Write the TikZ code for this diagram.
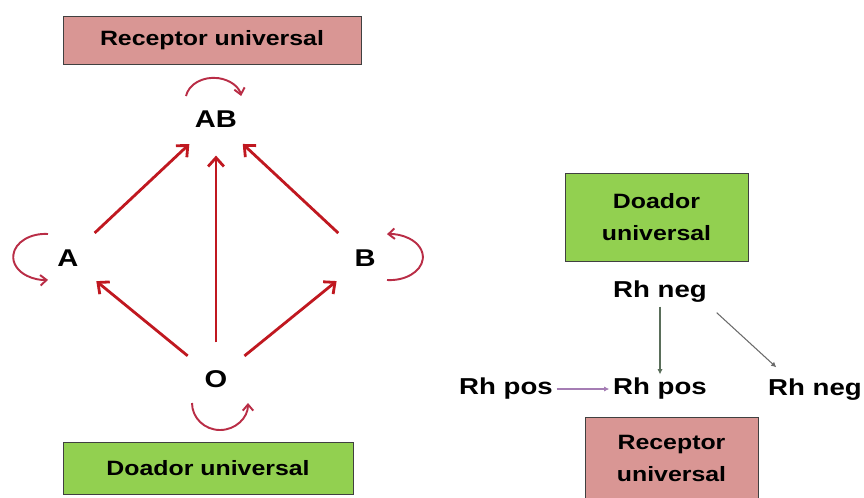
\documentclass[tikz,border=0pt]{standalone}
\usepackage{fontspec}
\setmainfont[FakeStretch=1.2]{Liberation Sans}
\usetikzlibrary{arrows.meta}
\definecolor{recpink}{RGB}{217,150,148}
\definecolor{doagreen}{RGB}{146,208,80}
\definecolor{bloodred}{RGB}{192,24,32}
\definecolor{looped}{RGB}{185,45,70}
\definecolor{rhgreen}{RGB}{90,110,90}
\definecolor{rhgray}{RGB}{105,105,105}
\definecolor{rhpurple}{RGB}{165,125,180}

\begin{document}
\begin{tikzpicture}[x=0.02cm,y=-0.02cm,
  boxtext/.style={font=\fontsize{11.8}{18.2}\selectfont\bfseries,align=center,text=black},
  grp/.style={circle,inner sep=0,minimum size=1.45cm,font=\fontsize{13.8}{16}\selectfont\bfseries},
  rh/.style={inner sep=2pt,font=\fontsize{13.1}{16}\selectfont\bfseries},
  given/.style={draw=bloodred,line width=1.6pt,-{Straight Barb[length=5pt,width=9pt]}},
  self/.style={draw=looped,line width=1.1pt,-{Straight Barb[length=3.5pt,width=6pt]}},
  rharrow/.style={line width=0.6pt,-{Latex[length=3pt,width=3pt]}}]
  \useasboundingbox (0,0) rectangle (864,497);
  \clip (0,0) rectangle (864,497);
  % ABO
  \draw[draw=black!75,fill=recpink] (63,16) rectangle node[boxtext] (rectop) {Receptor universal} (361,64);
  \draw[draw=black!75,fill=doagreen] (63,442) rectangle node[boxtext] (doabot) {Doador universal} (353,494);
  \node[grp] (ab) at (216,119) {AB};
  \node[grp] (a) at (68,258) {A};
  \node[grp] (b) at (365,258) {B};
  \node[grp] (o) at (216,379) {O};
  \draw[given] (a) -- (ab);
  \draw[given] (b) -- (ab);
  \draw[given] (o) -- (ab);
  \draw[given] (o) -- (a);
  \draw[given] (o) -- (b);
  \draw[self] (ab.center) ++(-30,-23) arc[start angle=190,end angle=350,x radius=28,y radius=22];
  \draw[self] (a.center) ++(-20,-24) arc[start angle=275,end angle=85,x radius=32,y radius=23];
  \draw[self] (b.center) ++(22,22) arc[start angle=95,end angle=-95,x radius=33,y radius=23];
  \draw[self] (o.center) ++(-24,24) arc[start angle=180,end angle=0,x radius=28,y radius=27];
  % Rh
  \draw[draw=black!75,fill=doagreen] (565,173) rectangle node[boxtext] (doaright) {Doador\\universal} (748,261);
  \draw[draw=black!75,fill=recpink] (585,417) rectangle node[boxtext] (recright) {Receptor\\universal} (758,500);
  \node[rh] (rhneg) at (660,292) {Rh neg};
  \node[rh] (rhpos) at (660,389) {Rh pos};
  \node[rh] (rhposl) at (506,389) {Rh pos};
  \node[rh] (rhnegr) at (815,390) {Rh neg};
  \draw[rharrow,rhgreen] (rhneg) -- (rhpos);
  \draw[rharrow,rhgray] ([shift={(6,6)}]rhneg.south east) -- ([shift={(12,-8)}]rhnegr.north west);
  \draw[rharrow,rhpurple] (rhposl) -- (rhpos);
\end{tikzpicture}
\end{document}
